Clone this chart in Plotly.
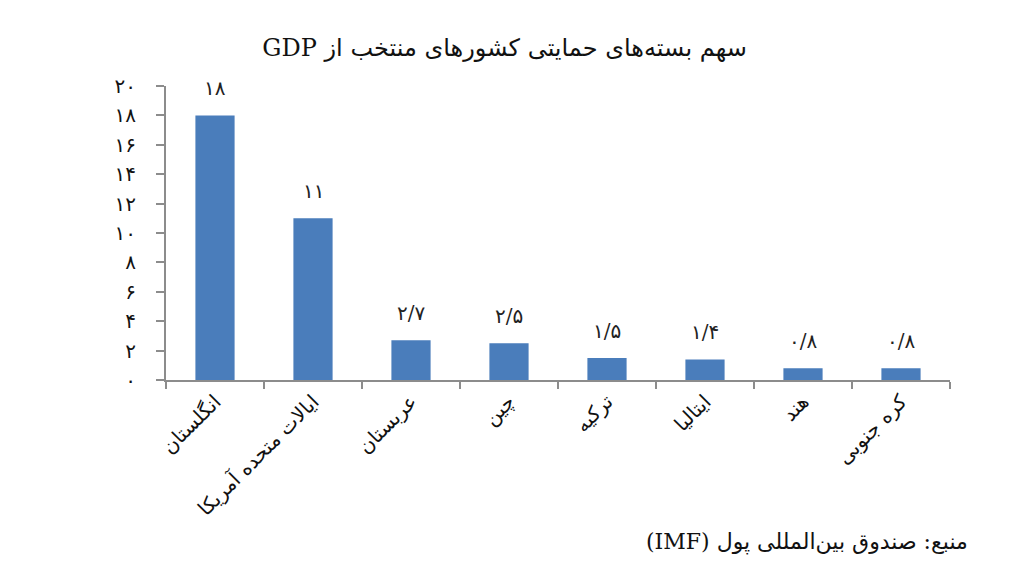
import plotly.graph_objects as go

categories = ["انگلستان", "ایالات متحده آمریکا", "عربستان", "چین", "ترکیه", "ایتالیا", "هند", "کره جنوبی"]
values = [18, 11, 2.7, 2.5, 1.5, 1.4, 0.8, 0.8]
value_labels = ["۱۸", "۱۱", "۲/۷", "۲/۵", "۱/۵", "۱/۴", "۰/۸", "۰/۸"]
y_tickvals = [0, 2, 4, 6, 8, 10, 12, 14, 16, 18, 20]
y_ticktext = ["۰", "۲", "۴", "۶", "۸", "۱۰", "۱۲", "۱۴", "۱۶", "۱۸", "۲۰"]

RLE, PDF = "\u202b", "\u202c"
title_text = RLE + "سهم بسته‌های حمایتی کشورهای منتخب از GDP" + PDF
source_text = RLE + "منبع: صندوق بین‌المللی پول (IMF)" + PDF

FONT = "DejaVu Serif, DejaVu Sans, serif"

fig = go.Figure()
fig.add_trace(go.Bar(
    x=categories, y=values,
    marker=dict(color="#4a7dbb", line=dict(width=0)),
    hoverinfo="skip",
))

for c, v, t in zip(categories, values, value_labels):
    fig.add_annotation(x=c, y=v, text=t, showarrow=False, yanchor="bottom",
                       yshift=13, font=dict(size=20, color="#222", family=FONT))

fig.add_annotation(xref="paper", yref="paper", x=1.026, y=-0.55, xanchor="right",
                   yanchor="middle", text=source_text, showarrow=False,
                   font=dict(size=22, color="#111", family=FONT))

fig.update_layout(
    width=1024, height=581,
    paper_bgcolor="white", plot_bgcolor="white",
    margin=dict(l=158, r=82, t=78, b=209),
    bargap=0.6,
    showlegend=False,
    title=dict(text=title_text, x=0.485, xanchor="center", y=0.932, yanchor="middle",
               font=dict(size=24, color="#111", family=FONT)),
    font=dict(family=FONT, color="#111"),
)
fig.update_xaxes(
    showline=True, linecolor="#8c8c8c", linewidth=2,
    ticks="outside", tickson="boundaries", ticklen=7, tickcolor="#8c8c8c", tickwidth=1.5,
    tickangle=-45, tickfont=dict(size=20, color="#111", family=FONT),
    showgrid=False,
)
fig.update_yaxes(
    range=[0, 20], tickvals=y_tickvals, ticktext=y_ticktext,
    showline=True, linecolor="#8c8c8c", linewidth=2,
    ticks="outside", ticklen=8, tickcolor="#8c8c8c", tickwidth=1.5,
    tickfont=dict(size=20, color="#111", family=FONT),
    showgrid=False, zeroline=False, ticklabelstandoff=16,
)

fig.write_html("out.html")
